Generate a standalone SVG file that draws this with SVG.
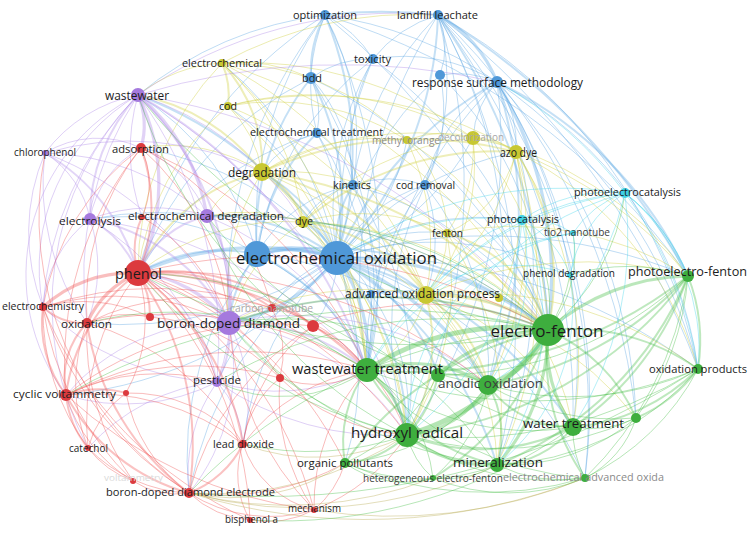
<svg xmlns="http://www.w3.org/2000/svg" width="749" height="537" viewBox="0 0 749 537">
<style>
path{fill:none;stroke-linecap:round}
.w1{stroke-width:1;stroke-opacity:.4}
.w2{stroke-width:2;stroke-opacity:.36}
.w3{stroke-width:3.2;stroke-opacity:.38}
.w4{stroke-width:5;stroke-opacity:.42}
.b{stroke:#5ea8e4}.y{stroke:#cfcf3c}.p{stroke:#b08ae8}.r{stroke:#f05555}.g{stroke:#4cc04c}.c{stroke:#46d6ea}.o{stroke:#b9ac55}
.nb{fill:#4f98d8}.ny{fill:#c8c832}.np{fill:#a57ade}.nr{fill:#dc3a3e}.ng{fill:#3eae3e}.nc{fill:#3fd0e4}
text{font-family:"Open Sans","Noto Sans","DejaVu Sans",sans-serif;text-anchor:middle;dominant-baseline:central;fill:#1c1c1c}
.gr{fill:#8a8a8a}.lg{fill:#a8a8a8}.vf{fill:#dadada}.dg{fill:#3c3c3c}
</style>
<rect width="749" height="537" fill="#fff"/>
<g id="connectors">
<g class="b w1">
<path d="M337 258A300 300 0 0 1 373 59"/><path d="M337 258A320 320 0 0 1 440 75"/><path d="M337 258A190 190 0 0 0 317 133"/><path d="M337 258A150 150 0 0 1 425 185"/><path d="M337 258A70 70 0 0 1 371 294"/><path d="M337 258A170 170 0 0 1 447 233"/><path d="M337 258A310 310 0 0 1 516 152"/><path d="M90 219A370 370 0 0 1 337 258"/><path d="M141 148A330 330 0 0 1 337 258"/><path d="M337 258A520 520 0 0 1 688 276"/><path d="M337 258A560 560 0 0 1 698 369"/><path d="M337 258A280 280 0 0 1 522 220"/><path d="M337 258A110 110 0 0 0 272 308"/><path d="M337 258A110 110 0 0 1 313 326"/><path d="M337 258A250 250 0 0 0 217 382"/><path d="M337 258A300 300 0 0 0 243 444"/><path d="M337 258A380 380 0 0 0 189 493"/><path d="M337 258A310 310 0 0 1 345 463"/><path d="M66 395A420 420 0 0 0 337 258"/><path d="M87 323A380 380 0 0 0 337 258"/><path d="M337 258A250 250 0 0 0 473 138"/><path d="M337 258A200 200 0 0 0 407 140"/><path d="M228 106A280 280 0 0 1 337 258"/><path d="M222 63A330 330 0 0 1 337 258"/><path d="M337 258A400 400 0 0 1 585 478"/><path d="M337 258A300 300 0 0 1 570 275"/>
<path d="M325 15A120 120 0 0 1 373 59"/><path d="M325 15A400 400 0 0 1 497 82"/><path d="M325 15A180 180 0 0 0 317 133"/><path d="M325 15A260 260 0 0 1 353 185"/><path d="M325 15A350 350 0 0 0 257 254"/><path d="M325 15A700 700 0 0 1 548 330"/><path d="M325 15A550 550 0 0 1 367 370"/><path d="M138 95A360 360 0 0 1 325 15"/><path d="M325 15A430 430 0 0 0 138 273"/><path d="M325 15A440 440 0 0 0 229 323"/>
<path d="M438 15A80 80 0 0 1 440 75"/><path d="M373 59A130 130 0 0 1 438 15"/><path d="M438 15A300 300 0 0 0 353 185"/><path d="M438 15A250 250 0 0 1 425 185"/><path d="M438 15A800 800 0 0 1 698 369"/><path d="M438 15A500 500 0 0 0 367 370"/><path d="M438 15A500 500 0 0 1 488 385"/><path d="M438 15A650 650 0 0 1 573 427"/><path d="M438 15A650 650 0 0 1 636 418"/><path d="M325 15A700 700 0 0 1 688 276"/><path d="M438 15A570 570 0 0 1 407 435"/><path d="M438 15A610 610 0 0 1 497 465"/><path d="M438 15A520 520 0 0 1 698 369"/><path d="M438 15A600 600 0 0 1 585 478"/>
<path d="M311 78A100 100 0 0 1 373 59"/><path d="M373 59A200 200 0 0 0 353 185"/><path d="M373 59A180 180 0 0 1 497 82"/><path d="M373 59A300 300 0 0 0 257 254"/><path d="M373 59A450 450 0 0 1 548 330"/><path d="M311 78A90 90 0 0 1 317 133"/><path d="M311 78A160 160 0 0 1 353 185"/><path d="M311 78A350 350 0 0 0 138 273"/><path d="M311 78A400 400 0 0 1 367 370"/><path d="M311 78A470 470 0 0 1 548 330"/><path d="M373 59A420 420 0 0 0 367 370"/>
<path d="M497 82A100 100 0 0 0 440 75"/><path d="M497 82A160 160 0 0 0 425 185"/><path d="M497 82A520 520 0 0 1 636 418"/><path d="M497 82A520 520 0 0 1 573 427"/><path d="M497 82A110 110 0 0 1 516 152"/><path d="M497 82A90 90 0 0 0 473 138"/><path d="M497 82A450 450 0 0 0 367 370"/><path d="M497 82A500 500 0 0 1 698 369"/><path d="M497 82A600 600 0 0 1 585 478"/><path d="M497 82A490 490 0 0 1 407 435"/><path d="M497 82A520 520 0 0 1 497 465"/><path d="M497 82A380 380 0 0 1 698 369"/><path d="M440 75A360 360 0 0 1 548 330"/><path d="M440 75A160 160 0 0 1 425 185"/>
<path d="M317 133A80 80 0 0 1 353 185"/><path d="M317 133A100 100 0 0 0 262 172"/><path d="M317 133A310 310 0 0 0 138 273"/><path d="M317 133A330 330 0 0 1 367 370"/><path d="M353 185A140 140 0 0 0 257 254"/><path d="M353 185A110 110 0 0 1 425 185"/><path d="M353 185A80 80 0 0 0 303 222"/><path d="M353 185A330 330 0 0 1 548 330"/><path d="M353 185A260 260 0 0 1 367 370"/><path d="M353 185A350 350 0 0 1 407 435"/><path d="M425 185A260 260 0 0 1 548 330"/><path d="M425 185A160 160 0 0 1 426 295"/><path d="M425 185A270 270 0 0 0 367 370"/><path d="M425 185A340 340 0 0 0 407 435"/><path d="M425 185A290 290 0 0 1 488 385"/>
<path d="M138 95A270 270 0 0 1 257 254"/><path d="M90 219A250 250 0 0 1 257 254"/><path d="M257 254A300 300 0 0 1 407 435"/><path d="M257 254A330 330 0 0 1 488 385"/><path d="M257 254A330 330 0 0 0 189 493"/><path d="M371 294A250 250 0 0 1 548 330"/><path d="M371 294A200 200 0 0 1 407 435"/>
</g>
<g class="b w2">
<path d="M337 258A360 360 0 0 0 325 15"/><path d="M337 258A370 370 0 0 0 438 15"/><path d="M337 258A270 270 0 0 0 311 78"/><path d="M337 258A370 370 0 0 1 497 82"/><path d="M337 258A110 110 0 0 1 353 185"/><path d="M337 258A170 170 0 0 0 262 172"/><path d="M337 258A80 80 0 0 0 303 222"/><path d="M337 258A140 140 0 0 1 426 295"/><path d="M138 95A400 400 0 0 1 337 258"/><path d="M337 258A200 200 0 0 0 207 216"/><path d="M337 258A270 270 0 0 1 407 435"/><path d="M337 258A370 370 0 0 1 497 465"/><path d="M337 258A400 400 0 0 1 573 427"/><path d="M337 258A200 200 0 0 1 438 375"/>
<path d="M325 15A500 500 0 0 1 438 15"/><path d="M325 15A120 120 0 0 0 311 78"/><path d="M438 15A600 600 0 0 1 548 330"/><path d="M438 15A700 700 0 0 1 688 276"/><path d="M311 78A250 250 0 0 0 257 254"/><path d="M497 82A400 400 0 0 1 688 276"/><path d="M497 82A450 450 0 0 1 488 385"/><path d="M317 133A200 200 0 0 0 257 254"/><path d="M257 254A350 350 0 0 1 548 330"/><path d="M257 254A220 220 0 0 1 367 370"/><path d="M138 273A170 170 0 0 1 257 254"/><path d="M257 254A130 130 0 0 0 229 323"/>
</g>
<g class="b w3">
<path d="M138 273A300 300 0 0 1 337 258"/><path d="M337 258A180 180 0 0 1 229 323"/><path d="M337 258A320 320 0 0 1 548 330"/><path d="M337 258A160 160 0 0 1 367 370"/><path d="M337 258A310 310 0 0 1 488 385"/><path d="M438 15A130 130 0 0 1 497 82"/><path d="M497 82A380 380 0 0 1 548 330"/>
</g>
<g class="b w4"><path d="M257 254A120 120 0 0 1 337 258"/></g>
<g class="y w1">
<path d="M222 63A170 170 0 0 1 311 78"/><path d="M222 63A250 250 0 0 1 303 222"/><path d="M222 63A420 420 0 0 1 426 295"/><path d="M222 63A260 260 0 0 1 407 140"/><path d="M222 63A150 150 0 0 0 138 95"/><path d="M222 63A380 380 0 0 1 473 138"/><path d="M222 63A560 560 0 0 1 548 330"/><path d="M222 63A450 450 0 0 1 367 370"/><path d="M222 63A400 400 0 0 1 438 15"/><path d="M222 63A300 300 0 0 0 138 273"/>
<path d="M228 106A120 120 0 0 1 262 172"/><path d="M228 106A250 250 0 0 1 407 140"/><path d="M228 106A320 320 0 0 1 473 138"/><path d="M228 106A380 380 0 0 1 516 152"/><path d="M228 106A370 370 0 0 1 426 295"/><path d="M228 106A400 400 0 0 1 367 370"/><path d="M228 106A260 260 0 0 0 138 273"/>
<path d="M262 172A250 250 0 0 1 447 233"/><path d="M262 172A220 220 0 0 1 407 140"/><path d="M262 172A320 320 0 0 1 473 138"/><path d="M262 172A300 300 0 0 1 367 370"/><path d="M262 172A100 100 0 0 0 207 216"/><path d="M262 172A230 230 0 0 0 229 323"/><path d="M262 172A400 400 0 0 1 407 435"/><path d="M262 172A420 420 0 0 1 488 385"/><path d="M262 172A170 170 0 0 0 141 148"/>
<path d="M303 222A200 200 0 0 1 447 233"/><path d="M303 222A260 260 0 0 1 473 138"/><path d="M303 222A350 350 0 0 1 548 330"/><path d="M303 222A180 180 0 0 0 207 216"/><path d="M303 222A220 220 0 0 1 367 370"/><path d="M303 222A350 350 0 0 1 488 385"/><path d="M303 222A320 320 0 0 1 407 435"/><path d="M303 222A240 240 0 0 0 138 273"/><path d="M303 222A170 170 0 0 0 229 323"/>
<path d="M447 233A100 100 0 0 1 426 295"/><path d="M447 233A120 120 0 0 0 516 152"/><path d="M447 233A150 150 0 0 0 473 138"/><path d="M407 140A100 100 0 0 1 473 138"/><path d="M407 140A130 130 0 0 1 447 233"/><path d="M407 140A250 250 0 0 1 426 295"/><path d="M473 138A200 200 0 0 1 426 295"/><path d="M473 138A300 300 0 0 1 548 330"/><path d="M447 233A280 280 0 0 1 407 435"/><path d="M447 233A320 320 0 0 1 497 465"/><path d="M447 233A310 310 0 0 1 573 427"/><path d="M447 233A330 330 0 0 1 688 276"/><path d="M407 140A330 330 0 0 1 548 330"/><path d="M473 138A340 340 0 0 1 688 276"/>
<path d="M516 152A220 220 0 0 1 499 298"/><path d="M516 152A250 250 0 0 1 426 295"/><path d="M516 152A400 400 0 0 1 688 276"/><path d="M516 152A420 420 0 0 1 497 465"/><path d="M516 152A350 350 0 0 1 698 369"/><path d="M516 152A380 380 0 0 1 573 427"/><path d="M516 152A320 320 0 0 1 488 385"/>
<path d="M426 295A250 250 0 0 1 573 427"/><path d="M426 295A250 250 0 0 1 497 465"/><path d="M426 295A120 120 0 0 1 367 370"/><path d="M426 295A390 390 0 0 1 688 276"/><path d="M426 295A120 120 0 0 1 499 298"/><path d="M499 298A100 100 0 0 1 548 330"/><path d="M426 295A300 300 0 0 0 229 323"/><path d="M426 295A330 330 0 0 1 636 418"/><path d="M426 295A380 380 0 0 1 698 369"/>
</g>
<g class="y w2">
<path d="M222 63A80 80 0 0 1 228 106"/><path d="M222 63A150 150 0 0 1 262 172"/><path d="M262 172A80 80 0 0 1 303 222"/><path d="M262 172A250 250 0 0 1 426 295"/><path d="M262 172A380 380 0 0 1 516 152"/><path d="M262 172A450 450 0 0 1 548 330"/><path d="M262 172A180 180 0 0 0 138 273"/><path d="M138 95A200 200 0 0 1 262 172"/><path d="M303 222A180 180 0 0 1 426 295"/><path d="M303 222A300 300 0 0 1 516 152"/><path d="M447 233A150 150 0 0 1 548 330"/><path d="M473 138A80 80 0 0 1 516 152"/><path d="M516 152A230 230 0 0 1 548 330"/><path d="M426 295A150 150 0 0 1 488 385"/><path d="M426 295A180 180 0 0 1 407 435"/>
</g>
<g class="y w3"><path d="M426 295A200 200 0 0 1 548 330"/></g>
<g class="p w1">
<path d="M45 153A150 150 0 0 1 138 95"/><path d="M138 95A600 600 0 0 1 407 435"/><path d="M138 95A420 420 0 0 1 217 382"/><path d="M138 95A330 330 0 0 0 43 307"/><path d="M138 95A330 330 0 0 0 87 323"/><path d="M138 95A300 300 0 0 1 303 222"/><path d="M138 95A650 650 0 0 1 548 330"/><path d="M138 95A200 200 0 0 0 142 217"/><path d="M138 95A450 450 0 0 1 438 15"/><path d="M138 95A700 700 0 0 1 497 82"/>
<path d="M45 153A100 100 0 0 1 90 219"/><path d="M45 153A250 250 0 0 1 207 216"/><path d="M45 153A330 330 0 0 1 229 323"/><path d="M45 153A200 200 0 0 0 43 307"/><path d="M45 153A240 240 0 0 0 87 323"/><path d="M45 153A100 100 0 0 1 141 148"/><path d="M45 153A300 300 0 0 1 262 172"/>
<path d="M90 219A180 180 0 0 1 207 216"/><path d="M90 219A120 120 0 0 0 43 307"/><path d="M90 219A150 150 0 0 1 87 323"/><path d="M90 219A100 100 0 0 1 141 148"/><path d="M90 219A440 440 0 0 1 367 370"/><path d="M90 219A280 280 0 0 1 217 382"/>
<path d="M207 216A200 200 0 0 1 217 382"/><path d="M207 216A300 300 0 0 1 367 370"/><path d="M207 216A480 480 0 0 1 548 330"/><path d="M207 216A120 120 0 0 0 141 148"/>
<path d="M229 323A450 450 0 0 1 548 330"/><path d="M229 323A250 250 0 0 1 407 435"/><path d="M229 323A300 300 0 0 1 488 385"/><path d="M229 323A120 120 0 0 0 150 317"/><path d="M229 323A200 200 0 0 0 66 395"/><path d="M229 323A200 200 0 0 1 189 493"/><path d="M229 323A170 170 0 0 1 243 444"/><path d="M229 323A70 70 0 0 1 272 308"/>
<path d="M217 382A200 200 0 0 0 367 370"/><path d="M217 382A150 150 0 0 0 138 273"/><path d="M217 382A300 300 0 0 0 407 435"/><path d="M217 382A200 200 0 0 1 66 395"/><path d="M217 382A100 100 0 0 1 243 444"/><path d="M189 493A160 160 0 0 1 217 382"/><path d="M88 448A200 200 0 0 1 217 382"/><path d="M43 307A260 260 0 0 0 217 382"/>
<path d="M66 395A200 200 0 0 1 138 95"/><path d="M43 307A200 200 0 0 1 138 95"/><path d="M88 448A300 300 0 0 1 138 95"/>
</g>
<g class="p w2">
<path d="M138 95A180 180 0 0 0 90 219"/><path d="M138 95A300 300 0 0 1 229 323"/><path d="M138 95A500 500 0 0 1 367 370"/><path d="M45 153A200 200 0 0 1 138 273"/><path d="M90 219A110 110 0 0 1 138 273"/><path d="M90 219A200 200 0 0 1 229 323"/><path d="M207 216A150 150 0 0 1 229 323"/><path d="M207 216A100 100 0 0 0 138 273"/><path d="M229 323A100 100 0 0 1 217 382"/><path d="M229 323A200 200 0 0 1 367 370"/>
</g>
<g class="p w3">
<path d="M138 95A80 80 0 0 1 141 148"/><path d="M138 95A200 200 0 0 1 138 273"/><path d="M138 95A200 200 0 0 1 207 216"/><path d="M229 323A130 130 0 0 0 138 273"/>
</g>
<g class="r w1">
<path d="M141 148A250 250 0 0 0 43 307"/><path d="M141 148A260 260 0 0 1 229 323"/><path d="M141 148A250 250 0 0 0 87 323"/><path d="M141 148A340 340 0 0 0 66 395"/><path d="M141 148A420 420 0 0 1 367 370"/><path d="M141 148A250 250 0 0 1 272 308"/><path d="M141 148A80 80 0 0 1 142 217"/>
<path d="M138 273A150 150 0 0 1 126 393"/><path d="M138 273A240 240 0 0 0 88 448"/><path d="M138 273A240 240 0 0 1 280 378"/><path d="M138 273A400 400 0 0 1 407 435"/><path d="M138 273A380 380 0 0 1 345 463"/><path d="M138 273A360 360 0 0 1 250 520"/><path d="M138 273A390 390 0 0 1 314 510"/><path d="M138 273A500 500 0 0 1 488 385"/><path d="M138 273A550 550 0 0 1 548 330"/><path d="M138 273A200 200 0 0 1 217 382"/>
<path d="M43 307A230 230 0 0 0 88 448"/><path d="M43 307A300 300 0 0 0 133 481"/><path d="M43 307A350 350 0 0 0 189 493"/><path d="M43 307A150 150 0 0 1 150 317"/><path d="M43 307A250 250 0 0 1 229 323"/><path d="M43 307A350 350 0 0 1 272 308"/>
<path d="M87 323A170 170 0 0 0 88 448"/><path d="M87 323A100 100 0 0 1 150 317"/><path d="M87 323A260 260 0 0 1 243 444"/><path d="M87 323A250 250 0 0 1 272 308"/><path d="M87 323A380 380 0 0 1 367 370"/><path d="M87 323A250 250 0 0 0 133 481"/>
<path d="M66 395A150 150 0 0 0 133 481"/><path d="M66 395A250 250 0 0 1 243 444"/><path d="M66 395A300 300 0 0 1 280 378"/><path d="M66 395A340 340 0 0 1 313 326"/><path d="M66 395A400 400 0 0 1 367 370"/>
<path d="M126 393A160 160 0 0 0 189 493"/><path d="M126 393A150 150 0 0 1 243 444"/><path d="M126 393A100 100 0 0 0 88 448"/><path d="M88 448A150 150 0 0 0 189 493"/><path d="M88 448A100 100 0 0 0 133 481"/><path d="M133 481A80 80 0 0 0 189 493"/>
<path d="M189 493A100 100 0 0 0 250 520"/><path d="M189 493A150 150 0 0 0 314 510"/><path d="M189 493A250 250 0 0 0 345 463"/><path d="M189 493A280 280 0 0 1 313 326"/><path d="M189 493A330 330 0 0 1 45 153"/><path d="M250 520A400 400 0 0 1 43 307"/><path d="M314 510A450 450 0 0 1 66 395"/>
<path d="M243 444A100 100 0 0 1 280 378"/><path d="M243 444A180 180 0 0 1 313 326"/><path d="M243 444A190 190 0 0 1 367 370"/><path d="M243 444A100 100 0 0 0 314 510"/><path d="M243 444A90 90 0 0 0 250 520"/>
<path d="M250 520A100 100 0 0 0 314 510"/><path d="M314 510A100 100 0 0 0 345 463"/><path d="M314 510A200 200 0 0 0 407 435"/><path d="M314 510A200 200 0 0 1 280 378"/><path d="M314 510A300 300 0 0 1 229 323"/><path d="M314 510A200 200 0 0 1 367 370"/>
<path d="M272 308A60 60 0 0 1 313 326"/><path d="M272 308A100 100 0 0 1 280 378"/><path d="M313 326A120 120 0 0 1 367 370"/><path d="M313 326A300 300 0 0 1 548 330"/><path d="M280 378A100 100 0 0 0 367 370"/><path d="M150 317A200 200 0 0 1 280 378"/><path d="M142 217A200 200 0 0 1 229 323"/>
<path d="M272 308A160 160 0 0 1 367 370"/><path d="M313 326A200 200 0 0 1 407 435"/><path d="M280 378A200 200 0 0 0 407 435"/><path d="M66 395A210 210 0 0 1 217 382"/>
</g>
<g class="r w2">
<path d="M141 148A170 170 0 0 1 138 273"/><path d="M138 273A80 80 0 0 1 150 317"/><path d="M138 273A80 80 0 0 1 142 217"/><path d="M138 273A180 180 0 0 0 66 395"/><path d="M138 273A300 300 0 0 1 189 493"/><path d="M138 273A270 270 0 0 1 243 444"/><path d="M138 273A200 200 0 0 1 272 308"/><path d="M138 273A220 220 0 0 1 313 326"/><path d="M138 273A320 320 0 0 1 367 370"/>
<path d="M43 307A60 60 0 0 0 87 323"/><path d="M43 307A120 120 0 0 0 66 395"/><path d="M87 323A80 80 0 0 0 66 395"/><path d="M87 323A260 260 0 0 0 189 493"/><path d="M66 395A100 100 0 0 1 126 393"/><path d="M66 395A100 100 0 0 0 88 448"/><path d="M66 395A200 200 0 0 0 189 493"/><path d="M189 493A100 100 0 0 0 243 444"/>
</g>
<g class="r w3">
<path d="M138 273A130 130 0 0 0 43 307"/><path d="M138 273A100 100 0 0 0 87 323"/>
</g>
<g class="o w1">
<path d="M189 493A450 450 0 0 0 497 465"/><path d="M189 493A600 600 0 0 0 585 478"/><path d="M189 493A400 400 0 0 0 433 478"/><path d="M189 493A350 350 0 0 0 407 435"/><path d="M243 444A200 200 0 0 0 407 435"/><path d="M585 478A500 500 0 0 1 314 510"/><path d="M345 463A200 200 0 0 1 189 493"/>
</g>
<g class="g w1">
<path d="M548 330A150 150 0 0 0 570 275"/><path d="M548 330A210 210 0 0 0 625 193"/><path d="M548 330A150 150 0 0 0 522 220"/><path d="M548 330A120 120 0 0 0 573 233"/><path d="M548 330A580 580 0 0 1 138 273"/><path d="M548 330A520 520 0 0 0 189 493"/><path d="M548 330A450 450 0 0 0 217 382"/><path d="M548 330A650 650 0 0 0 66 395"/><path d="M548 330A640 640 0 0 1 138 95"/><path d="M548 330A370 370 0 0 0 303 222"/><path d="M548 330A480 480 0 0 0 207 216"/>
<path d="M688 276A280 280 0 0 1 636 418"/><path d="M688 276A350 350 0 0 1 585 478"/><path d="M688 276A200 200 0 0 0 570 275"/><path d="M688 276A360 360 0 0 1 438 375"/>
<path d="M698 369A280 280 0 0 1 497 465"/><path d="M698 369A300 300 0 0 1 488 385"/><path d="M698 369A250 250 0 0 1 585 478"/><path d="M698 369A450 450 0 0 1 407 435"/><path d="M698 369A800 800 0 0 1 189 493"/><path d="M698 369A450 450 0 0 1 367 370"/>
<path d="M636 418A100 100 0 0 1 573 427"/><path d="M636 418A100 100 0 0 1 585 478"/><path d="M636 418A200 200 0 0 1 497 465"/><path d="M636 418A250 250 0 0 1 488 385"/><path d="M636 418A320 320 0 0 1 407 435"/>
<path d="M573 427A250 250 0 0 1 367 370"/><path d="M573 427A100 100 0 0 0 585 478"/><path d="M573 427A500 500 0 0 1 250 520"/><path d="M573 427A200 200 0 0 1 438 375"/>
<path d="M585 478A200 200 0 0 1 433 478"/><path d="M585 478A150 150 0 0 1 497 465"/><path d="M585 478A250 250 0 0 1 407 435"/><path d="M585 478A350 350 0 0 1 345 463"/><path d="M585 478A320 320 0 0 1 367 370"/>
<path d="M497 465A100 100 0 0 1 433 478"/><path d="M497 465A200 200 0 0 1 345 463"/><path d="M488 385A200 200 0 0 1 345 463"/><path d="M407 435A80 80 0 0 0 433 478"/><path d="M367 370A150 150 0 0 1 433 478"/><path d="M433 478A100 100 0 0 1 345 463"/><path d="M433 478A160 160 0 0 0 488 385"/><path d="M345 463A190 190 0 0 0 438 375"/>
<path d="M407 435A500 500 0 0 1 138 273"/><path d="M407 435A300 300 0 0 1 229 323"/><path d="M407 435A300 300 0 0 1 243 444"/><path d="M367 370A350 350 0 0 0 87 323"/><path d="M367 370A150 150 0 0 1 217 382"/><path d="M488 385A350 350 0 0 0 229 323"/><path d="M497 465A450 450 0 0 0 138 273"/><path d="M367 370A480 480 0 0 1 138 95"/><path d="M407 435A400 400 0 0 1 207 216"/><path d="M488 385A440 440 0 0 1 207 216"/><path d="M497 465A410 410 0 0 1 229 323"/>
</g>
<g class="g w2">
<path d="M548 330A220 220 0 0 1 698 369"/><path d="M548 330A170 170 0 0 1 636 418"/><path d="M548 330A210 210 0 0 0 585 478"/><path d="M548 330A260 260 0 0 1 433 478"/><path d="M548 330A330 330 0 0 0 345 463"/><path d="M548 330A450 450 0 0 0 229 323"/>
<path d="M688 276A180 180 0 0 1 698 369"/><path d="M688 276A300 300 0 0 1 573 427"/><path d="M688 276A350 350 0 0 1 497 465"/><path d="M688 276A350 350 0 0 1 488 385"/><path d="M688 276A400 400 0 0 1 407 435"/><path d="M688 276A450 450 0 0 1 367 370"/>
<path d="M698 369A150 150 0 0 1 636 418"/><path d="M698 369A200 200 0 0 1 573 427"/>
<path d="M573 427A100 100 0 0 1 497 465"/><path d="M573 427A100 100 0 0 1 488 385"/><path d="M573 427A200 200 0 0 1 407 435"/>
<path d="M497 465A100 100 0 0 0 488 385"/><path d="M497 465A200 200 0 0 1 367 370"/><path d="M488 385A80 80 0 0 0 438 375"/><path d="M438 375A120 120 0 0 1 407 435"/><path d="M438 375A110 110 0 0 0 367 370"/><path d="M407 435A100 100 0 0 1 345 463"/><path d="M367 370A120 120 0 0 0 345 463"/>
</g>
<g class="g w3">
<path d="M548 330A200 200 0 0 1 497 465"/><path d="M548 330A140 140 0 0 0 573 427"/><path d="M548 330A220 220 0 0 1 688 276"/><path d="M548 330A170 170 0 0 0 438 375"/><path d="M497 465A130 130 0 0 1 407 435"/><path d="M488 385A100 100 0 0 1 407 435"/><path d="M488 385A150 150 0 0 0 367 370"/><path d="M407 435A100 100 0 0 0 367 370"/>
</g>
<g class="g w4">
<path d="M548 330A250 250 0 0 1 407 435"/><path d="M548 330A260 260 0 0 0 367 370"/><path d="M548 330A100 100 0 0 1 488 385"/>
</g>
<g class="c w1">
<path d="M625 193A150 150 0 0 0 522 220"/><path d="M625 193A100 100 0 0 0 573 233"/><path d="M625 193A120 120 0 0 0 570 275"/><path d="M625 193A200 200 0 0 1 688 276"/><path d="M625 193A300 300 0 0 0 426 295"/><path d="M625 193A350 350 0 0 0 367 370"/><path d="M625 193A300 300 0 0 0 407 435"/><path d="M625 193A400 400 0 0 0 337 258"/><path d="M625 193A350 350 0 0 1 573 427"/><path d="M625 193A300 300 0 0 1 488 385"/><path d="M625 193A400 400 0 0 1 698 369"/><path d="M625 193A400 400 0 0 0 497 82"/><path d="M625 193A200 200 0 0 1 698 369"/>
<path d="M522 220A80 80 0 0 1 573 233"/><path d="M522 220A100 100 0 0 1 570 275"/><path d="M522 220A150 150 0 0 0 426 295"/><path d="M522 220A200 200 0 0 1 488 385"/><path d="M522 220A300 300 0 0 0 337 258"/><path d="M522 220A300 300 0 0 1 407 435"/><path d="M522 220A250 250 0 0 1 497 465"/>
<path d="M573 233A80 80 0 0 1 570 275"/><path d="M573 233A200 200 0 0 0 407 435"/><path d="M573 233A300 300 0 0 0 367 370"/><path d="M570 275A150 150 0 0 0 426 295"/><path d="M570 275A200 200 0 0 1 497 465"/><path d="M688 276A200 200 0 0 0 625 193"/>
</g>
</g>
<g id="n-b2"><circle class="nb" cx="257" cy="254" r="13"/></g>
<g id="n-b7"><circle class="nb" cx="440" cy="75" r="5"/></g>
<g id="n-b12"><circle class="nb" cx="371" cy="294" r="4"/></g>
<g id="n-y10"><circle class="ny" cx="499" cy="298" r="4"/></g>
<g id="n-r5"><circle class="nr" cx="150" cy="317" r="4"/></g>
<g id="n-r7"><circle class="nr" cx="313" cy="326" r="6"/></g>
<g id="n-r8"><circle class="nr" cx="142" cy="217" r="3"/></g>
<g id="n-r10"><circle class="nr" cx="126" cy="393" r="3"/></g>
<g id="n-r11"><circle class="nr" cx="280" cy="378" r="4"/></g>
<g id="n-g4"><circle class="ng" cx="438" cy="375" r="7"/></g>
<g id="n-g11"><circle class="ng" cx="636" cy="418" r="5"/></g>
<g id="n-optimization"><circle class="nb" cx="325" cy="15" r="5"/><text x="325" y="15" font-size="10.5" textLength="64" lengthAdjust="spacingAndGlyphs">optimization</text></g>
<g id="n-landfill-leachate"><circle class="nb" cx="438" cy="15" r="5"/><text x="437.5" y="15" font-size="10.5" textLength="81" lengthAdjust="spacingAndGlyphs">landfill leachate</text></g>
<g id="n-toxicity"><circle class="nb" cx="373" cy="59" r="5"/><text x="372.5" y="59" font-size="10.5" textLength="37" lengthAdjust="spacingAndGlyphs">toxicity</text></g>
<g id="n-bdd"><circle class="nb" cx="311" cy="78" r="6"/><text x="312" y="78" font-size="10.5" textLength="20" lengthAdjust="spacingAndGlyphs">bdd</text></g>
<g id="n-response-surface-methodology"><circle class="nb" cx="497" cy="82" r="6"/><text x="497.5" y="82" font-size="12.5" textLength="171" lengthAdjust="spacingAndGlyphs">response surface methodology</text></g>
<g id="n-electrochemical-treatment"><circle class="nb" cx="317" cy="133" r="5"/><text x="316.5" y="132" font-size="10.5" textLength="133" lengthAdjust="spacingAndGlyphs">electrochemical treatment</text></g>
<g id="n-kinetics"><circle class="nb" cx="353" cy="185" r="5"/><text x="352" y="185" font-size="10.5" textLength="38" lengthAdjust="spacingAndGlyphs">kinetics</text></g>
<g id="n-cod-removal"><circle class="nb" cx="425" cy="185" r="5"/><text x="425.5" y="185" font-size="10.5" textLength="59" lengthAdjust="spacingAndGlyphs">cod removal</text></g>
<g id="n-electrochemical"><circle class="ny" cx="222" cy="63" r="4"/><text x="222" y="63" font-size="10.5" textLength="80" lengthAdjust="spacingAndGlyphs">electrochemical</text></g>
<g id="n-cod"><circle class="ny" cx="228" cy="106" r="4"/><text x="228" y="106" font-size="10.5" textLength="18" lengthAdjust="spacingAndGlyphs">cod</text></g>
<g id="n-methyl-orange"><circle class="ny" cx="407" cy="140" r="4"/><text class="gr" x="406" y="140" font-size="10.5" textLength="68" lengthAdjust="spacingAndGlyphs">methyl orange</text></g>
<g id="n-decolorization"><circle class="ny" cx="473" cy="138" r="7"/><text class="lg" x="471" y="137" font-size="10.5" textLength="66" lengthAdjust="spacingAndGlyphs">decolorization</text></g>
<g id="n-azo-dye"><circle class="ny" cx="516" cy="152" r="7"/><text x="518.5" y="152" font-size="12" textLength="37" lengthAdjust="spacingAndGlyphs">azo dye</text></g>
<g id="n-degradation"><circle class="ny" cx="262" cy="172" r="9"/><text x="262" y="172" font-size="12.5" textLength="68" lengthAdjust="spacingAndGlyphs">degradation</text></g>
<g id="n-dye"><circle class="ny" cx="303" cy="222" r="6"/><text x="304" y="221" font-size="10.5" textLength="18" lengthAdjust="spacingAndGlyphs">dye</text></g>
<g id="n-fenton"><circle class="ny" cx="447" cy="233" r="4"/><text x="447.5" y="233" font-size="10" textLength="31" lengthAdjust="spacingAndGlyphs">fenton</text></g>
<g id="n-advanced-oxidation-process"><circle class="ny" cx="426" cy="295" r="9"/><text x="422.5" y="293" font-size="12.5" textLength="155" lengthAdjust="spacingAndGlyphs">advanced oxidation process</text></g>
<g id="n-wastewater"><circle class="np" cx="138" cy="95" r="7"/><text x="137" y="95" font-size="12" textLength="64" lengthAdjust="spacingAndGlyphs">wastewater</text></g>
<g id="n-chlorophenol"><circle class="np" cx="45" cy="153" r="3"/><text x="45" y="152" font-size="10" textLength="62" lengthAdjust="spacingAndGlyphs">chlorophenol</text></g>
<g id="n-electrolysis"><circle class="np" cx="90" cy="219" r="6"/><text x="90" y="220" font-size="11.5" textLength="62" lengthAdjust="spacingAndGlyphs">electrolysis</text></g>
<g id="n-electrochemical-degradation"><circle class="np" cx="207" cy="216" r="7"/><text x="206" y="215" font-size="11.5" textLength="156" lengthAdjust="spacingAndGlyphs">electrochemical degradation</text></g>
<g id="n-pesticide"><circle class="np" cx="217" cy="382" r="5"/><text x="217" y="380" font-size="10.5" textLength="48" lengthAdjust="spacingAndGlyphs">pesticide</text></g>
<g id="n-adsorption"><circle class="nr" cx="141" cy="148" r="5"/><text x="140.5" y="148" font-size="11.5" textLength="57" lengthAdjust="spacingAndGlyphs">adsorption</text></g>
<g id="n-electrochemistry"><circle class="nr" cx="43" cy="307" r="4"/><text x="43" y="306" font-size="10" textLength="82" lengthAdjust="spacingAndGlyphs">electrochemistry</text></g>
<g id="n-oxidation"><circle class="nr" cx="87" cy="323" r="5"/><text x="86.5" y="323" font-size="11" textLength="51" lengthAdjust="spacingAndGlyphs">oxidation</text></g>
<g id="n-carbon-nanotube"><circle class="nr" cx="272" cy="308" r="4"/><text class="lg" x="271.5" y="308" font-size="10" textLength="83" lengthAdjust="spacingAndGlyphs">carbon nanotube</text></g>
<g id="n-cyclic-voltammetry"><circle class="nr" cx="66" cy="395" r="6"/><text x="64.5" y="393" font-size="11.5" textLength="103" lengthAdjust="spacingAndGlyphs">cyclic voltammetry</text></g>
<g id="n-catechol"><circle class="nr" cx="88" cy="448" r="3"/><text x="88.5" y="448" font-size="10" textLength="39" lengthAdjust="spacingAndGlyphs">catechol</text></g>
<g id="n-voltammetry"><circle class="nr" cx="133" cy="481" r="3"/><text class="vf" x="133.5" y="477" font-size="9.5" textLength="59" lengthAdjust="spacingAndGlyphs">voltammetry</text></g>
<g id="n-boron-doped-diamond-electrode"><circle class="nr" cx="189" cy="493" r="5"/><text x="190.5" y="491" font-size="11" textLength="169" lengthAdjust="spacingAndGlyphs">boron-doped diamond electrode</text></g>
<g id="n-lead-dioxide"><circle class="nr" cx="243" cy="444" r="4"/><text x="243.5" y="444" font-size="10.5" textLength="61" lengthAdjust="spacingAndGlyphs">lead dioxide</text></g>
<g id="n-bisphenol-a"><circle class="nr" cx="250" cy="520" r="3"/><text x="251.5" y="519" font-size="10" textLength="53" lengthAdjust="spacingAndGlyphs">bisphenol a</text></g>
<g id="n-mechanism"><circle class="nr" cx="314" cy="510" r="3"/><text x="314.5" y="508" font-size="10" textLength="53" lengthAdjust="spacingAndGlyphs">mechanism</text></g>
<g id="n-photoelectrocatalysis"><circle class="nc" cx="625" cy="193" r="5"/><text x="627.5" y="192" font-size="10.5" textLength="107" lengthAdjust="spacingAndGlyphs">photoelectrocatalysis</text></g>
<g id="n-photocatalysis"><circle class="nc" cx="522" cy="220" r="5"/><text x="523" y="219" font-size="10.5" textLength="72" lengthAdjust="spacingAndGlyphs">photocatalysis</text></g>
<g id="n-tio2-nanotube"><circle class="nc" cx="573" cy="233" r="3"/><text class="dg" x="577" y="232" font-size="10" textLength="66" lengthAdjust="spacingAndGlyphs">tio2 nanotube</text></g>
<g id="n-phenol-degradation"><circle class="nc" cx="570" cy="275" r="3"/><text x="569" y="273" font-size="10" textLength="92" lengthAdjust="spacingAndGlyphs">phenol degradation</text></g>
<g id="n-oxidation-products"><circle class="ng" cx="698" cy="369" r="5"/><text x="698" y="369" font-size="10.5" textLength="98" lengthAdjust="spacingAndGlyphs">oxidation products</text></g>
<g id="n-organic-pollutants"><circle class="ng" cx="345" cy="463" r="5"/><text x="345" y="463" font-size="10.5" textLength="96" lengthAdjust="spacingAndGlyphs">organic pollutants</text></g>
<g id="n-heterogeneous-electro-fenton"><circle class="ng" cx="433" cy="478" r="3"/><text class="dg" x="433" y="478" font-size="10" textLength="140" lengthAdjust="spacingAndGlyphs">heterogeneous electro-fenton</text></g>
<g id="n-electrochemical-advanced-oxida"><circle class="ng" cx="585" cy="478" r="4"/><text class="gr" x="583.5" y="477" font-size="10.5" textLength="161" lengthAdjust="spacingAndGlyphs">electrochemical advanced oxida</text></g>
<g id="n-water-treatment"><circle class="ng" cx="573" cy="427" r="9"/><text x="573.5" y="423" font-size="13" textLength="101" lengthAdjust="spacingAndGlyphs">water treatment</text></g>
<g id="n-mineralization"><circle class="ng" cx="497" cy="465" r="7"/><text x="498" y="462" font-size="13.5" textLength="90" lengthAdjust="spacingAndGlyphs">mineralization</text></g>
<g id="n-photoelectro-fenton"><circle class="ng" cx="688" cy="276" r="6"/><text x="687.5" y="271" font-size="13" textLength="119" lengthAdjust="spacingAndGlyphs">photoelectro-fenton</text></g>
<g id="n-anodic-oxidation"><circle class="ng" cx="488" cy="385" r="10"/><text class="dg" x="490.5" y="383" font-size="13.5" textLength="105" lengthAdjust="spacingAndGlyphs">anodic oxidation</text></g>
<g id="n-wastewater-treatment"><circle class="ng" cx="367" cy="370" r="12"/><text x="367.5" y="368" font-size="14.5" textLength="151" lengthAdjust="spacingAndGlyphs">wastewater treatment</text></g>
<g id="n-hydroxyl-radical"><circle class="ng" cx="407" cy="435" r="12"/><text x="407" y="432" font-size="14.5" textLength="112" lengthAdjust="spacingAndGlyphs">hydroxyl radical</text></g>
<g id="n-boron-doped-diamond"><circle class="np" cx="229" cy="323" r="12"/><text x="228.5" y="323" font-size="13.5" textLength="143" lengthAdjust="spacingAndGlyphs">boron-doped diamond</text></g>
<g id="n-phenol"><circle class="nr" cx="138" cy="273" r="13"/><text x="138.5" y="273" font-size="14.5" textLength="47" lengthAdjust="spacingAndGlyphs">phenol</text></g>
<g id="n-electro-fenton"><circle class="ng" cx="548" cy="330" r="16"/><text x="547" y="330" font-size="17" textLength="113" lengthAdjust="spacingAndGlyphs">electro-fenton</text></g>
<g id="n-electrochemical-oxidation"><circle class="nb" cx="337" cy="258" r="17"/><text x="336.5" y="258" font-size="16" textLength="201" lengthAdjust="spacingAndGlyphs">electrochemical oxidation</text></g>
</svg>
